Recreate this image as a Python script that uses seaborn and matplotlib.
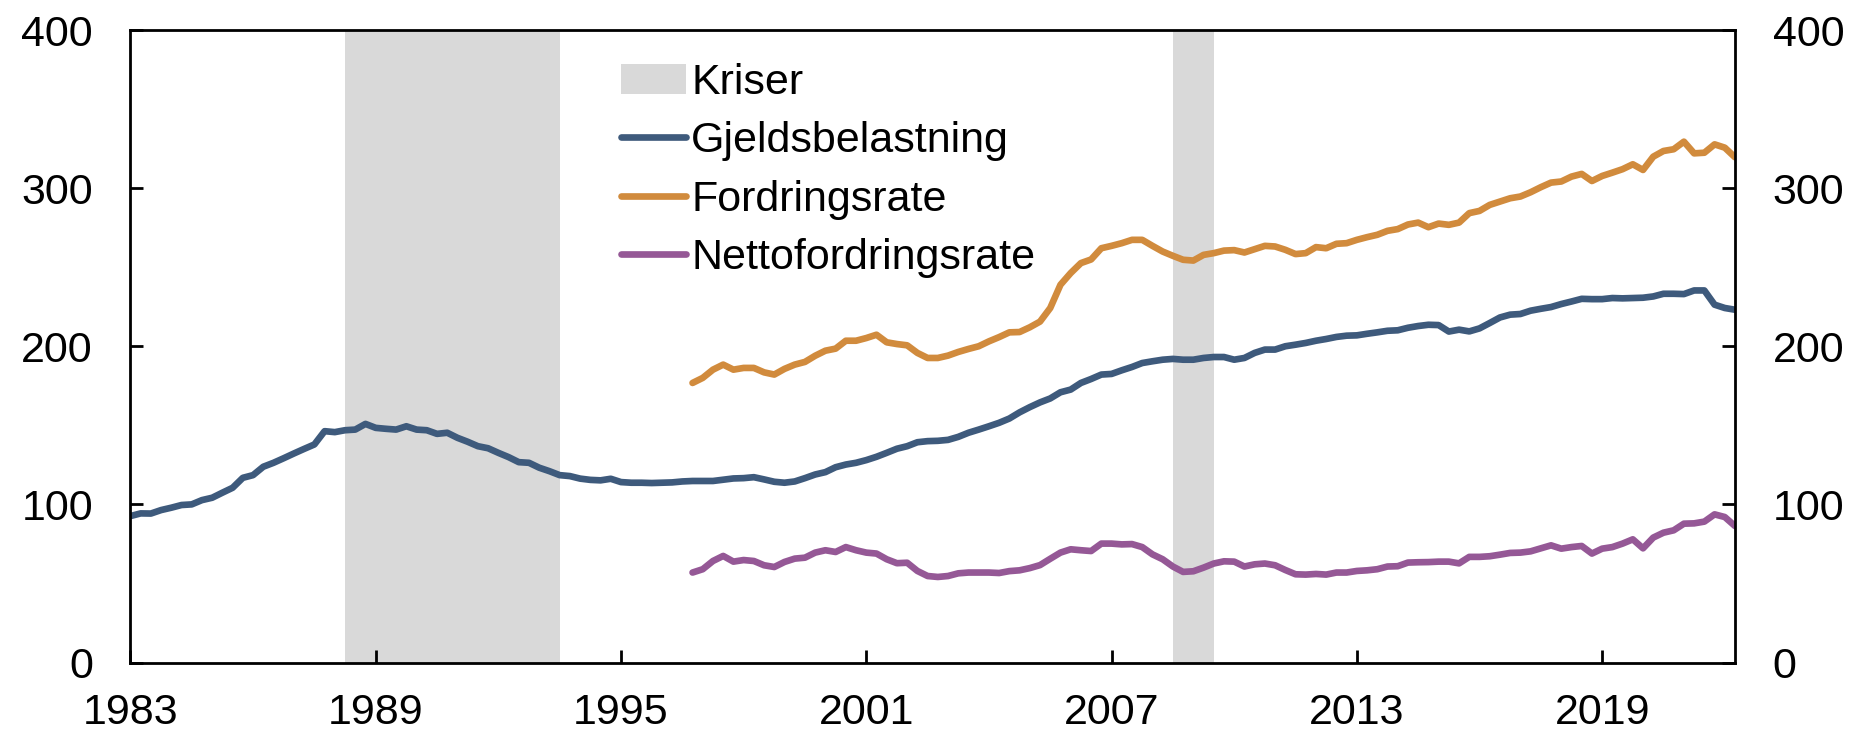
import numpy as np
import pandas as pd
import matplotlib
matplotlib.use("Agg")
import matplotlib.pyplot as plt
from matplotlib.lines import Line2D
from matplotlib.patches import Patch
import seaborn as sns

# Kvartalsdata, 1983K1 - 2022K2
gjeldsbelastning = [
    92.6, 94.3, 94.2, 96.4, 97.9, 99.6, 100.0, 102.7, 104.2, 107.4, 110.5, 116.8,
    118.5, 123.8, 126.3, 129.2, 132.2, 135.1, 137.9, 146.3, 145.7, 146.9, 147.3, 150.9,
    148.4, 147.8, 147.3, 149.4, 147.3, 146.9, 144.6, 145.3, 142.1, 139.6, 136.8, 135.5,
    132.6, 129.9, 126.7, 126.3, 123.2, 121.0, 118.5, 117.9, 116.3, 115.5, 115.2, 116.2,
    114.1, 113.7, 113.7, 113.5, 113.7, 113.9, 114.5, 114.8, 114.8, 114.8, 115.6, 116.4,
    116.6, 117.2, 115.8, 114.3, 113.7, 114.5, 116.6, 118.9, 120.4, 123.5, 125.2, 126.3,
    128.0, 130.1, 132.6, 135.2, 136.8, 139.3, 140.0, 140.2, 140.8, 142.7, 145.3, 147.3,
    149.4, 151.6, 154.3, 158.2, 161.5, 164.5, 167.0, 170.9, 172.6, 176.8, 179.3, 182.1,
    182.5, 184.8, 186.9, 189.4, 190.5, 191.5, 192.0, 191.5, 191.5, 192.6, 193.2, 193.2,
    191.5, 192.6, 195.8, 197.9, 197.9, 200.0, 201.0, 202.1, 203.5, 204.6, 205.9, 206.7,
    206.9, 207.9, 208.8, 209.8, 210.1, 211.7, 212.8, 213.6, 213.4, 209.3, 210.5, 209.4,
    211.3, 214.7, 218.2, 220.0, 220.4, 222.5, 223.7, 224.8, 226.7, 228.3, 230.0, 229.8,
    229.8, 230.5, 230.3, 230.5, 230.7, 231.5, 233.2, 233.2, 233.0, 235.3, 235.3, 226.3,
    224.2, 223.1,
]

# 1996K4 - 2022K2
fordringsrate = [
    176.8, 180.0, 185.2, 188.4, 185.2, 186.3, 186.3, 183.5, 182.1, 185.7, 188.4, 190.1,
    194.0, 197.2, 198.5, 203.5, 203.5, 205.2, 207.3, 202.5, 201.4, 200.6, 195.8, 192.6,
    192.6, 194.1, 196.4, 198.3, 200.0, 203.1, 205.8, 208.8, 209.0, 212.0, 215.6, 224.2,
    238.9, 246.3, 252.6, 254.9, 262.0, 263.5, 265.2, 267.3, 267.3, 263.5, 259.9, 257.2,
    254.7, 254.2, 257.8, 258.9, 260.5, 260.8, 259.3, 261.4, 263.5, 263.1, 261.0, 258.3,
    258.9, 262.7, 262.0, 264.8, 265.2, 267.3, 269.0, 270.5, 273.0, 274.1, 277.0, 278.2,
    275.3, 277.6, 276.8, 278.2, 284.2, 285.6, 289.4, 291.5, 293.6, 294.7, 297.4, 300.6,
    303.5, 304.2, 307.3, 309.0, 304.5, 307.7, 309.8, 312.0, 315.1, 311.5, 319.9, 323.5,
    324.6, 329.4, 322.0, 322.4, 327.7, 325.6, 319.5,
]

nettofordringsrate = [
    56.9, 59.0, 64.2, 67.4, 63.8, 64.8, 64.2, 61.5, 60.4, 63.6, 65.7, 66.3,
    69.5, 71.0, 69.9, 73.0, 71.0, 69.5, 68.9, 65.3, 62.8, 63.1, 57.9, 54.7,
    54.1, 54.7, 56.4, 56.9, 56.9, 56.9, 56.6, 57.8, 58.3, 59.7, 61.6, 65.6,
    69.5, 71.6, 71.0, 70.5, 75.2, 75.2, 74.7, 74.9, 73.0, 68.4, 65.3, 60.7,
    57.3, 57.7, 60.0, 62.6, 64.0, 63.8, 60.7, 62.1, 62.6, 61.5, 58.5, 55.8,
    55.6, 56.0, 55.6, 56.9, 56.9, 57.9, 58.3, 59.0, 60.7, 60.9, 63.2, 63.4,
    63.5, 63.8, 63.8, 62.7, 66.8, 66.8, 67.2, 68.2, 69.3, 69.5, 70.3, 72.2,
    74.1, 72.0, 73.0, 73.7, 68.9, 72.0, 73.0, 75.2, 77.9, 72.2, 79.0, 82.1,
    83.6, 87.8, 88.0, 89.1, 93.7, 92.0, 86.3,
]

kriser = [(1988.25, 1993.5), (2008.5, 2009.5)]
xticks = [1983, 1989, 1995, 2001, 2007, 2013, 2019]
yticks = [0, 100, 200, 300, 400]

farger = {
    "Gjeldsbelastning": "#3e5a7c",
    "Fordringsrate": "#d18b3d",
    "Nettofordringsrate": "#955896",
}
graa = "#d9d9d9"

# Lang tabell for seaborn
def kvartal(start, n):
    return start + np.arange(n) / 4

df = pd.concat([
    pd.DataFrame({"aar": kvartal(1983.0, len(gjeldsbelastning)),
                  "verdi": gjeldsbelastning, "serie": "Gjeldsbelastning"}),
    pd.DataFrame({"aar": kvartal(1996.75, len(fordringsrate)),
                  "verdi": fordringsrate, "serie": "Fordringsrate"}),
    pd.DataFrame({"aar": kvartal(1996.75, len(nettofordringsrate)),
                  "verdi": nettofordringsrate, "serie": "Nettofordringsrate"}),
])

sns.set_style("ticks")
plt.rcParams["font.family"] = ["Liberation Sans", "DejaVu Sans"]
plt.rcParams["text.color"] = "black"

fig = plt.figure(figsize=(18.63, 7.34), dpi=100)
ax = fig.add_axes([0.0700, 0.0974, 0.8613, 0.8617])

for a, b in kriser:
    ax.axvspan(a, b, color=graa, lw=0, zorder=0)

sns.lineplot(data=df, x="aar", y="verdi", hue="serie", palette=farger,
             linewidth=4.8, legend=False, ax=ax, estimator=None,
             solid_joinstyle="round")

ax.set_xlim(1983, 2022.25)
ax.set_ylim(0, 400)
ax.set_xticks(xticks)
ax.set_yticks(yticks)
ax.set_xlabel("")
ax.set_ylabel("")

for s in ax.spines.values():
    s.set_visible(True)
    s.set_color("black")
    s.set_linewidth(2)

ax.tick_params(axis="both", direction="in", length=9.5, width=2,
               labelsize=31, colors="black")
ax.tick_params(axis="y", left=True, right=True, labelleft=True,
               labelright=True, pad=27)
ax.tick_params(axis="x", top=False, pad=22)

handles = [Patch(facecolor=graa, edgecolor="none", label="Kriser")]
for navn, farge in farger.items():
    handles.append(Line2D([0], [0], color=farge, lw=4.8,
                          solid_capstyle="round", label=navn))
ax.legend(handles=handles, loc="upper left", bbox_to_anchor=(0.306, 0.948),
          frameon=False, fontsize=31, handlelength=1.5, handletextpad=0.12,
          labelspacing=0.43, borderpad=0, borderaxespad=0, labelcolor="black")

fig.savefig("out.png", dpi=100)
